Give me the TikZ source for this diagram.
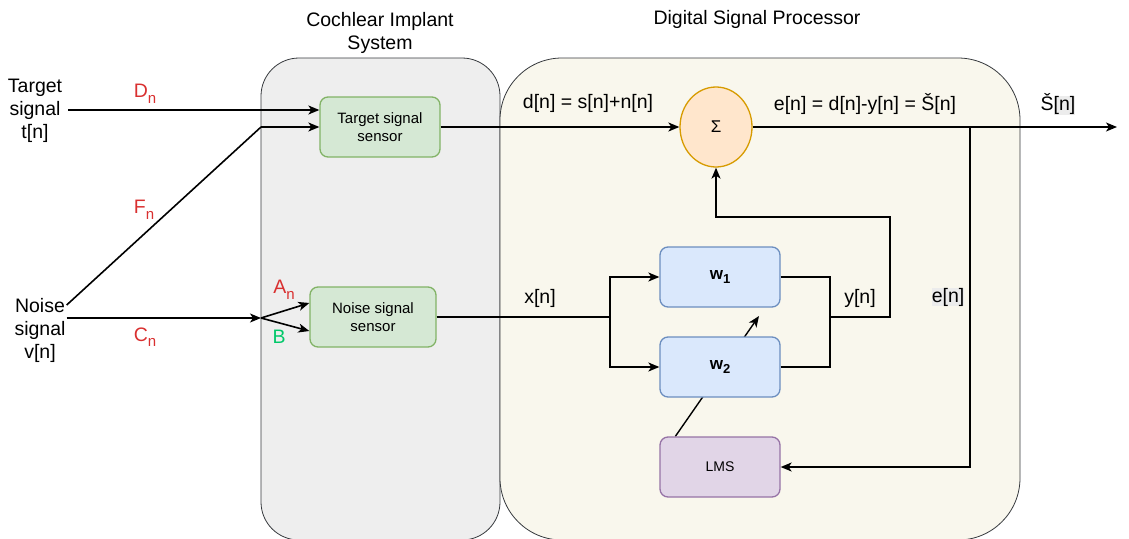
\documentclass[tikz,border=0pt]{standalone}
\usepackage{fontspec}
\setmainfont{Liberation Sans}
\usetikzlibrary{arrows.meta,calc,shapes.geometric}
\pgfdeclarelayer{bg}\pgfdeclarelayer{mid}\pgfsetlayers{bg,mid,main}
\definecolor{cifill}{HTML}{EEEEEE}
\definecolor{dspfill}{HTML}{F9F7ED}
\definecolor{contstroke}{HTML}{36393D}
\definecolor{gfill}{HTML}{D5E8D4}
\definecolor{gstroke}{HTML}{82B366}
\definecolor{bfill}{HTML}{DAE8FC}
\definecolor{bstroke}{HTML}{6C8EBF}
\definecolor{pfill}{HTML}{E1D5E7}
\definecolor{pstroke}{HTML}{9673A6}
\definecolor{ofill}{HTML}{FFE6CC}
\definecolor{ostroke}{HTML}{D79B00}
\definecolor{lblred}{RGB}{217,48,48}
\definecolor{lblgreen}{RGB}{0,200,105}
\definecolor{hl}{RGB}{236,236,236}
\newcommand\mysub[2]{\raisebox{-0.28em}{\fontsize{#1}{#1}\selectfont #2}}
\tikzset{
  cont/.style={draw=contstroke, line width=0.8pt, inner sep=0pt},
  blk/.style={draw, line width=1.3pt, rounded corners=8pt, minimum width=120pt, minimum height=60pt, align=center, inner sep=0pt},
  sensor/.style={blk, fill=gfill, draw=gstroke, font=\fontsize{15}{18}\selectfont},
  wblk/.style={blk, fill=bfill, draw=bstroke, font=\fontsize{17}{20}\selectfont\bfseries},
  lmsblk/.style={blk, fill=pfill, draw=pstroke, font=\fontsize{14}{17}\selectfont},
  lbl/.style={font=\fontsize{19.5}{23}\selectfont, align=center, inner sep=2pt},
  redlbl/.style={lbl, text=lblred},
  wire/.style={line width=1.6pt, black},
  arr/.style={wire, -{Stealth[length=11pt, width=9pt, inset=3pt]}},
}
\begin{document}
\begin{tikzpicture}[x=1pt,y=-1pt]
\useasboundingbox (0,0) rectangle (1129,538);

% containers
\begin{pgfonlayer}{bg}
\node[cont, fill=cifill, rounded corners=38pt, minimum width=239pt, minimum height=482pt] (ci) at (380.5,299) {};
\node[cont, fill=dspfill, rounded corners=62pt, minimum width=520pt, minimum height=482pt] (dsp) at (760,299) {};
\end{pgfonlayer}
\node[lbl] (citl) at (380,33) {Cochlear Implant\\System};
\node[lbl] (dsptl) at (757,19) {Digital Signal Processor};

% sources
\node[lbl] (tgt) at (35,111) {Target\\signal\\t[n]};
\node[lbl] (noi) at (40,330) {Noise\\signal\\v[n]};

% blocks
\node[sensor] (ts) at (380,127) {Target signal\\sensor};
\node[sensor, minimum width=126pt] (ns) at (373,317) {Noise signal\\sensor};
\node[ellipse, draw=ostroke, fill=ofill, line width=1.3pt, minimum width=72pt, minimum height=80pt, inner sep=0pt, font=\fontsize{17}{20}\selectfont] (sum) at (716,127) {Σ};
\node[wblk] (w1) at (720,277) {w\mysub{13}{1}};
\node[wblk] (w2) at (720,367) {w\mysub{13}{2}};
\node[lmsblk] (lms) at (720,467) {LMS};

% junction coordinates
\coordinate (j1) at (261,127);
\coordinate (j2) at (261,318);
\coordinate (xb) at (610,317);
\coordinate (yb) at (830,317);
\coordinate (yc) at (890,217);
\coordinate (eb) at (970,127);
\coordinate (out) at (1117,127);
\coordinate (adapt) at (759,316);

% input connectors
\draw[arr] ($(tgt.east)+(4,-1)$) -- (ts.west |- 0,110);
\draw[wire] ($(noi.east)+(-1,-25)$) -- (j1);
\draw[arr] (j1) -- (ts.west);
\draw[arr] ($(noi.east)+(-1,-12)$) -- (j2);
\draw[arr] (j2) -- ($(ns.west)+(0,-14)$);
\draw[arr] (j2) -- ($(ns.west)+(0,14)$);

% DSP connectors
\draw[arr] (ts.east) -- (sum.west);
\draw[arr] (sum.east) -- (out);
\draw[arr] (eb) |- (lms.east);
\draw[wire] (ns.east) -- (xb);
\draw[arr] (xb) |- (w1.west);
\draw[arr] (xb) |- (w2.west);
\draw[wire] (w1.east) -| (yb);
\draw[wire] (w2.east) -| (yb);
\draw[arr] (yb) -| (yc) -| (sum.south);
\begin{pgfonlayer}{mid}
\draw[arr, line width=1.4pt] ($(lms.north west)+(16,0)$) -- (adapt);
\end{pgfonlayer}

% labels
\node[redlbl] (dl) at (145,94) {D\mysub{15}{n}};
\node[redlbl] (fl) at (144,210) {F\mysub{15}{n}};
\node[redlbl] (cl) at (145,337) {C\mysub{15}{n}};
\node[redlbl] (al) at (284,290) {A\mysub{15}{n}};
\node[lbl, text=lblgreen] (bl) at (279,337) {B};
\node[lbl] (dnl) at (588,103) {d[n] = s[n]+n[n]};
\node[lbl] (enl) at (865,104) {e[n] = d[n]-y[n] = Š[n]};
\node[lbl] (outl) at (1058,104) {Š{\setlength{\fboxsep}{0pt}\colorbox{hl}{[n]}}};
\node[lbl] (xl) at (540,298) {x[n]};
\node[lbl] (yl) at (860,298) {y[n]};
\node[lbl, fill=hl, inner sep=0pt] (el) at (948,297) {e[n]};
\end{tikzpicture}
\end{document}
